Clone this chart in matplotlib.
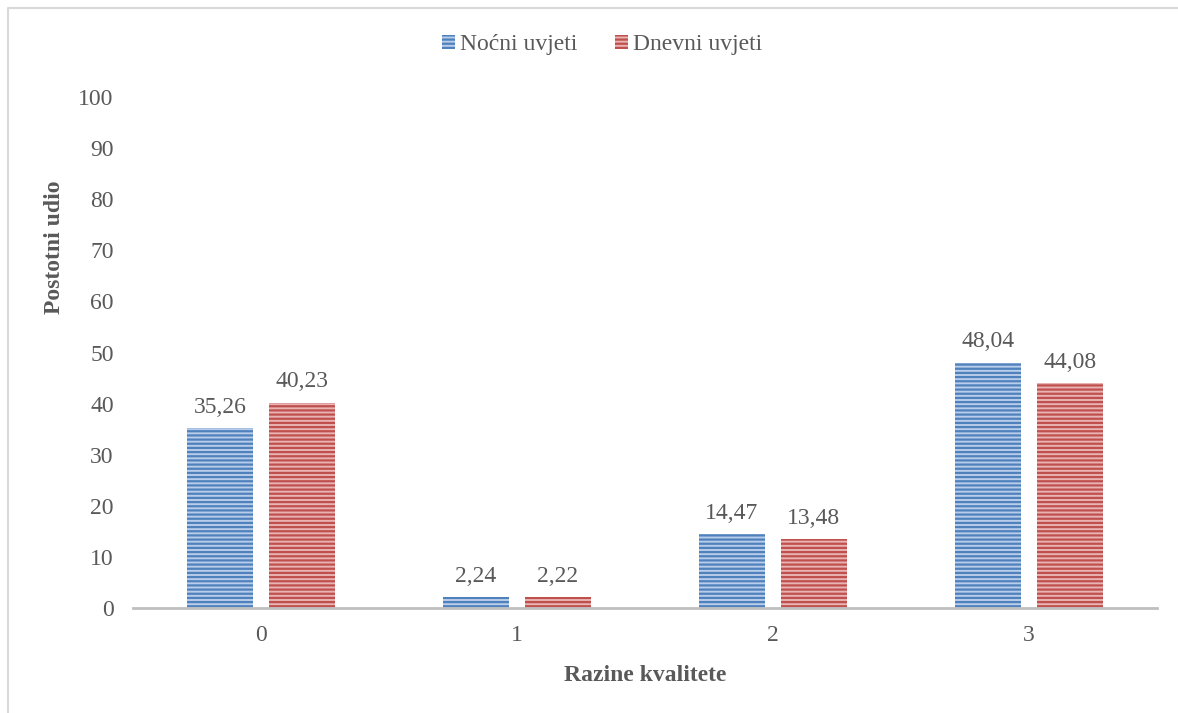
import matplotlib.pyplot as plt
import numpy as np
from matplotlib.lines import Line2D

plt.rcParams['font.family'] = ['Liberation Serif', 'DejaVu Serif']
plt.rcParams['hatch.linewidth'] = 1.6

# data
categories = ['0', '1', '2', '3']
nocni = [35.26, 2.24, 14.47, 48.04]
dnevni = [40.23, 2.22, 13.48, 44.08]
series_names = ['Noćni uvjeti', 'Dnevni uvjeti']

txt = '#595959'
fs = 17
fig = plt.figure(figsize=(11.78, 7.13), dpi=100)
ax = fig.add_axes([0.113, 0.147, 0.869, 0.717])

x = np.arange(len(categories))
w = 0.258
off = 0.16
b1 = ax.bar(x - off, nocni, w, facecolor='#b9cdea', edgecolor='#4f81bd',
            hatch='----', linewidth=0, label=series_names[0])
b2 = ax.bar(x + off, dnevni, w, facecolor='#e8b3b2', edgecolor='#c0504d',
            hatch='----', linewidth=0, label=series_names[1])

for bars, vals in ((b1, nocni), (b2, dnevni)):
    for r, v in zip(bars, vals):
        ax.text(r.get_x() + r.get_width() / 2, v + 2.0, f'{v:.2f}'.replace('.', ','),
                ha='center', va='bottom', fontsize=fs, color=txt)

ax.set_xlim(-0.5, 3.5)
ax.set_ylim(0, 100)
ax.set_yticks(range(0, 101, 10))
ax.set_xticks(x)
ax.set_xticklabels(categories)
ax.tick_params(length=0, labelsize=fs, colors=txt)
ax.tick_params(axis='y', pad=14)
ax.tick_params(axis='x', pad=12)
for s in ('top', 'right', 'left'):
    ax.spines[s].set_visible(False)
ax.spines['bottom'].set_color('#bfbfbf')
ax.spines['bottom'].set_linewidth(2)

ax.set_xlabel('Razine kvalitete', fontsize=fs, fontweight='bold', color=txt, labelpad=14)
fig.text(55 / 1178, 1 - 247 / 713, 'Postotni udio', rotation=90, ha='center', va='center',
         fontsize=fs, fontweight='bold', color=txt)

fig.legend(handles=[b1, b2], labels=series_names, loc='center',
           bbox_to_anchor=(0.511, 0.937), ncol=2, frameon=False,
           fontsize=fs, labelcolor=txt, handlelength=0.55, handleheight=0.55,
           handletextpad=0.2, columnspacing=1.6)

# chart area border (left and top visible)
fig.add_artist(Line2D([8 / 1178, 8 / 1178, 1.0], [0.0, 1 - 8 / 713, 1 - 8 / 713],
                      transform=fig.transFigure, color='#d9d9d9', linewidth=1.5))

fig.savefig('out.png', dpi=100)
